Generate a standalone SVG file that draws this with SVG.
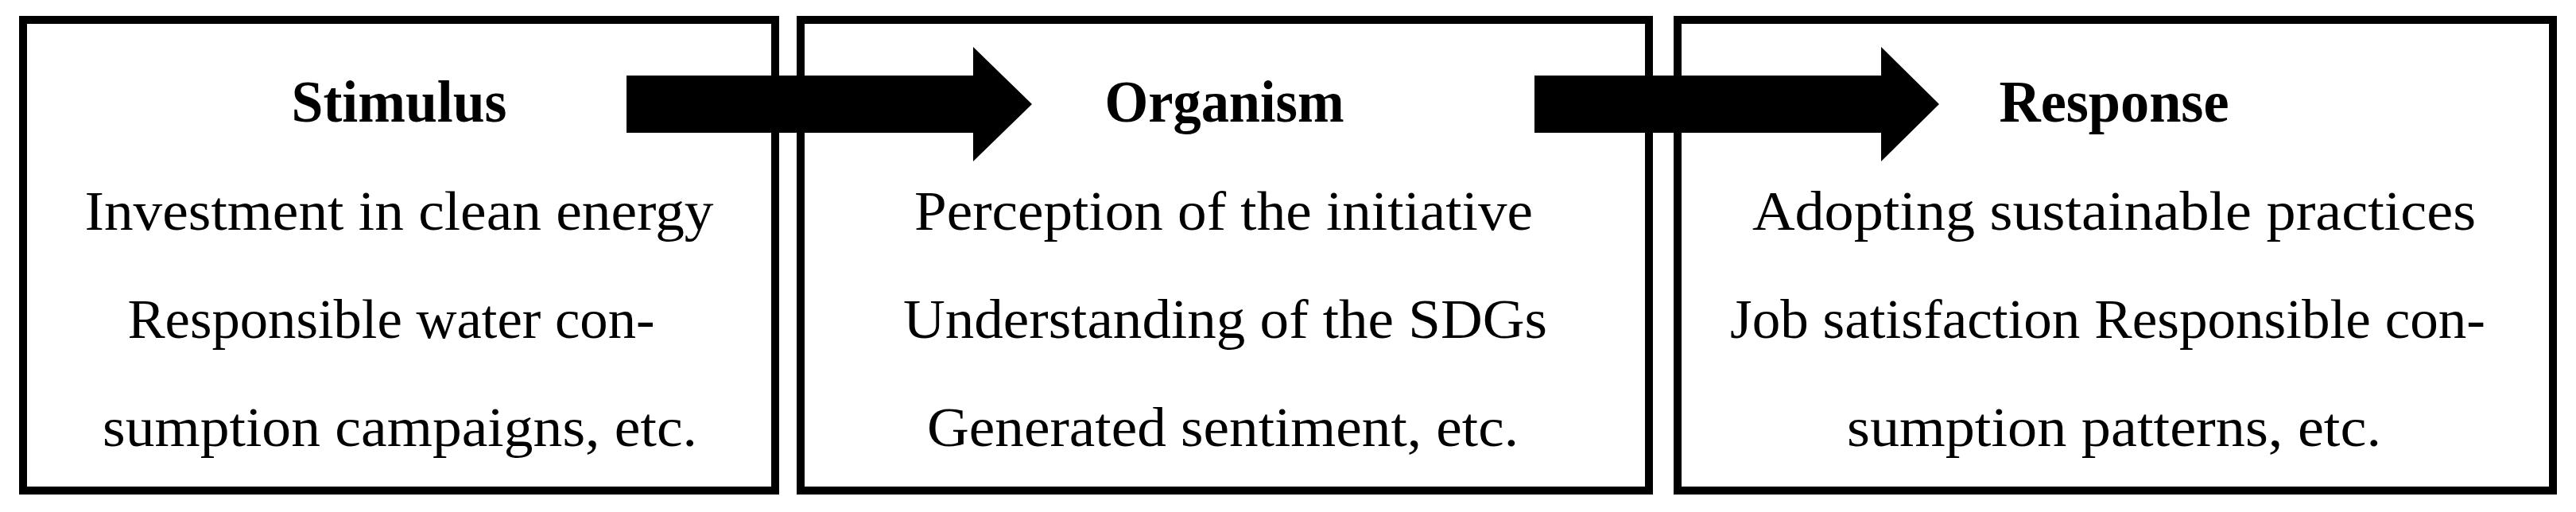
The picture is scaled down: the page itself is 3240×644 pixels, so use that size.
<svg xmlns="http://www.w3.org/2000/svg" width="3240" height="644" viewBox="0 0 3240 644">
<style>
.box{fill:#fff;stroke:#000;stroke-width:10}
.t{font-family:"Liberation Serif","Times New Roman",serif;font-size:70px;fill:#000;text-anchor:middle}
.h{font-family:"Liberation Serif","Times New Roman",serif;font-size:74px;font-weight:bold;fill:#000;text-anchor:middle}
.arrow{fill:#000}
</style>
<rect width="3240" height="644" fill="#fff"/>
<g id="stimulus">
<rect class="box" x="29" y="25" width="946" height="592"/>
<text class="h" x="502" y="153" textLength="271" lengthAdjust="spacingAndGlyphs">Stimulus</text>
<text class="t" x="502" y="289" textLength="791" lengthAdjust="spacingAndGlyphs">Investment in clean energy</text>
<text class="t" x="492" y="425" textLength="663" lengthAdjust="spacingAndGlyphs">Responsible water con-</text>
<text class="t" x="503" y="561" textLength="748" lengthAdjust="spacingAndGlyphs">sumption campaigns, etc.</text>
</g>
<g id="organism">
<rect class="box" x="1007" y="25" width="1067" height="592"/>
<text class="h" x="1540" y="153" textLength="301" lengthAdjust="spacingAndGlyphs">Organism</text>
<text class="t" x="1539" y="289" textLength="778" lengthAdjust="spacingAndGlyphs">Perception of the initiative</text>
<text class="t" x="1541" y="425" textLength="810" lengthAdjust="spacingAndGlyphs">Understanding of the SDGs</text>
<text class="t" x="1538" y="561" textLength="744" lengthAdjust="spacingAndGlyphs">Generated sentiment, etc.</text>
</g>
<g id="response">
<rect class="box" x="2110" y="25" width="1101" height="592"/>
<text class="h" x="2659" y="153" textLength="289" lengthAdjust="spacingAndGlyphs">Response</text>
<text class="t" x="2659" y="289" textLength="910" lengthAdjust="spacingAndGlyphs">Adopting sustainable practices</text>
<text class="t" x="2651" y="425" textLength="950" lengthAdjust="spacingAndGlyphs">Job satisfaction Responsible con-</text>
<text class="t" x="2659" y="561" textLength="672" lengthAdjust="spacingAndGlyphs">sumption patterns, etc.</text>
</g>
<g id="connectors">
<polygon class="arrow" points="788,95 1224,95 1224,59 1298,131 1224,203 1224,167 788,167"/>
<polygon class="arrow" points="1930,95 2366,95 2366,59 2439,131 2366,203 2366,167 1930,167"/>
</g>
</svg>
